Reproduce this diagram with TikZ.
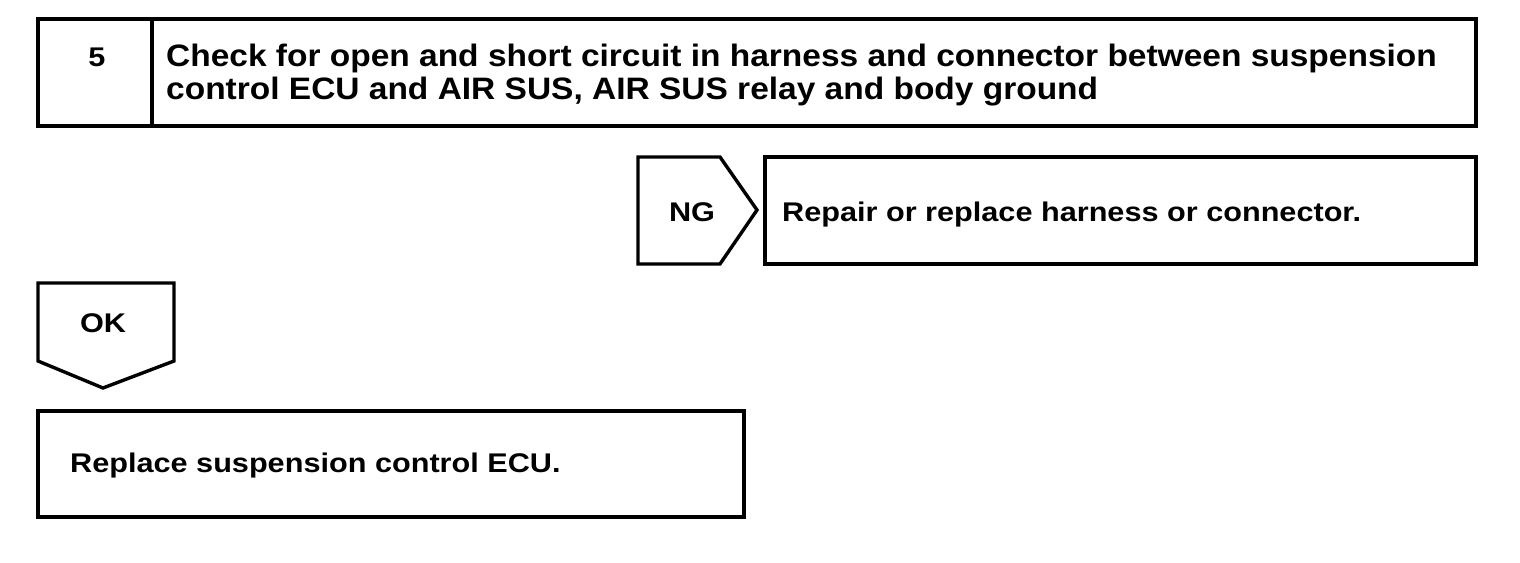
\documentclass[tikz,border=0pt]{standalone}
\usepackage{fontspec}
\setmainfont{Liberation Sans}
\newcommand{\wide}[1]{\scalebox{1.135}[1]{#1}}
\newcommand{\twide}[1]{\scalebox{1.08}[1]{#1}}
\begin{document}
\begin{tikzpicture}[x=1pt,y=-1pt,
  box/.style={draw=black,line width=3.4pt,line join=miter},
  txt/.style={inner sep=0pt,font=\fontsize{27}{28}\selectfont\bfseries,anchor=base west},
  ttxt/.style={inner sep=0pt,font=\fontsize{31}{31}\selectfont\bfseries,anchor=base west},
  ctxt/.style={inner sep=0pt,font=\fontsize{27}{28}\selectfont\bfseries,anchor=base}]
\useasboundingbox[fill=white] (0,0) rectangle (1520,562);
% header
\draw[box] (38,19) rectangle (1476,126);
\draw[box] (152,19) -- (152,126);
\node[ctxt] (num) at (97,66) {\wide{5}};
\node[ttxt] (t1) at (166,66) {\twide{Check for open and short circuit in harness and connector between suspension}};
\node[ttxt] (t2) at (166,99) {\twide{control ECU and AIR SUS, AIR SUS relay and body ground}};
% NG
\draw[box] (638,157) -- (720,157) -- (757,210) -- (720,264) -- (638,264) -- cycle;
\node[ctxt] (ng) at (692,221) {\wide{NG}};
\draw[box] (765,157) rectangle (1476,264);
\node[txt] (rep) at (782,221) {\wide{Repair or replace harness or connector.}};
% OK
\draw[box] (38,283) -- (174,283) -- (174,361) -- (103,388) -- (38,361) -- cycle;
\node[ctxt] (ok) at (103,332) {\wide{OK}};
\draw[box] (38,411) rectangle (744,517);
\node[txt] (ecu) at (70,472) {\wide{Replace suspension control ECU.}};
\end{tikzpicture}
\end{document}
